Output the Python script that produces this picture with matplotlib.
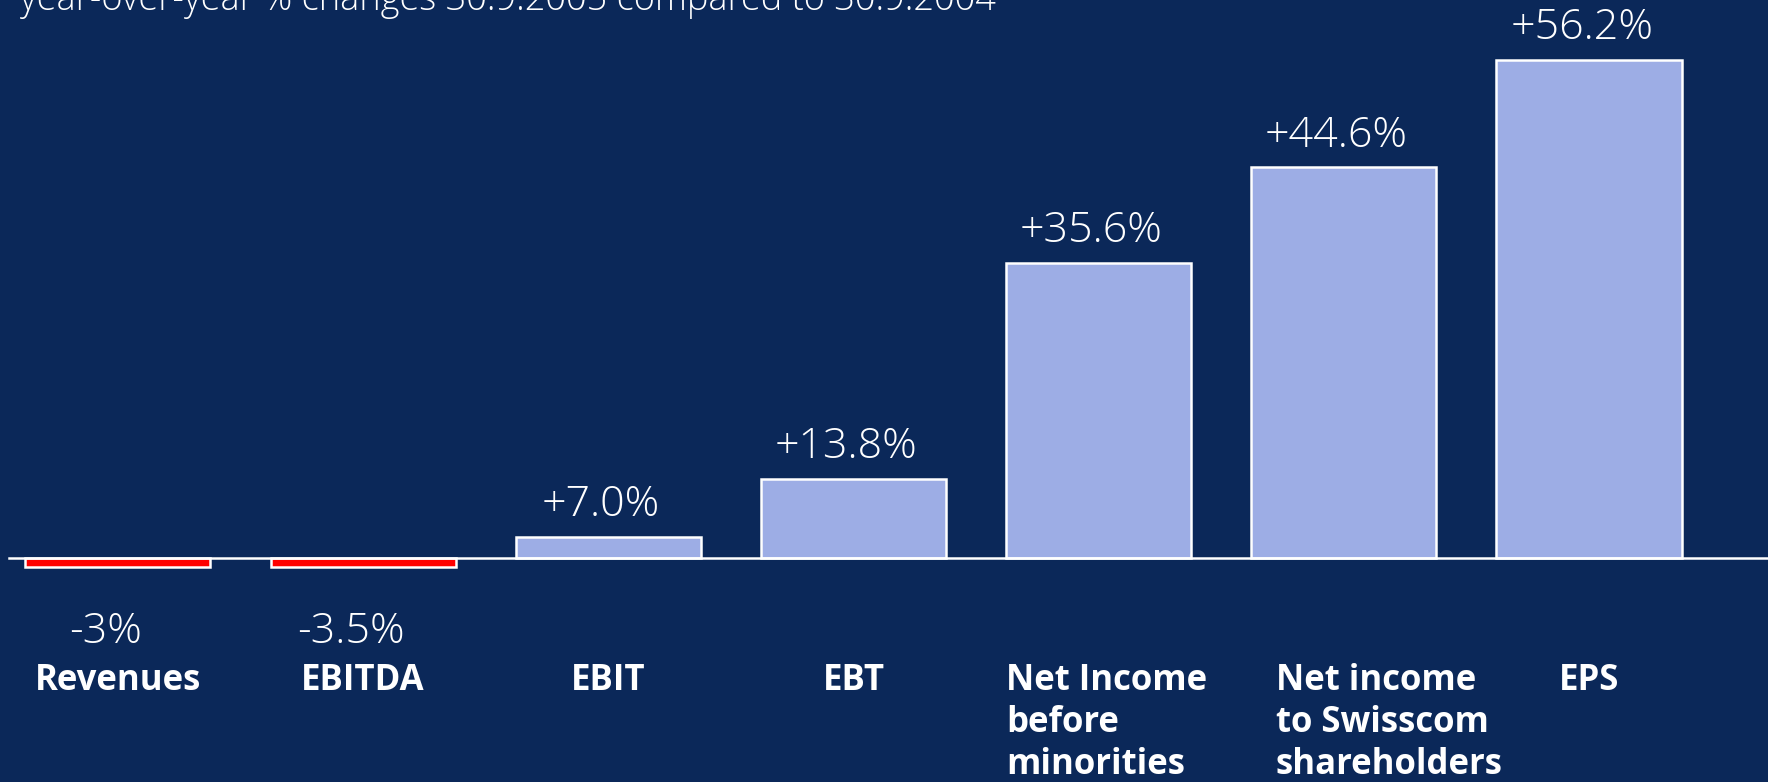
import numpy as np
import matplotlib
matplotlib.use('Agg')
from matplotlib import pyplot as plt

# data
categories = ['Revenues', 'EBITDA', 'EBIT', 'EBT',
              'Net Income\nbefore\nminorities',
              'Net income\nto Swisscom\nshareholders',
              'EPS']
value_labels = ['-3%', '-3.5%', '+7.0%', '+13.8%', '+35.6%', '+44.6%', '+56.2%']
# drawn bar heights (the slide does not draw them to scale)
bar_heights = [-1.0, -1.0, 2.4, 9.0, 33.3, 44.1, 56.2]
title = 'year-over-year % changes 30.9.2005 compared to 30.9.2004'

BG = '#0B2859'
BAR = '#9DADE5'
NEG = '#FF0000'
FONT = ['Open Sans', 'DejaVu Sans']

fig = plt.figure(figsize=(17.68, 7.82), dpi=100, facecolor=BG)
ax = fig.add_axes([0, 0, 1, 1], facecolor=BG)

x = np.arange(len(categories))
colors = [NEG if v < 0 else BAR for v in bar_heights]
ax.bar(x, bar_heights, width=0.755, color=colors, edgecolor='white', linewidth=1.8, zorder=2)

# baseline
ax.axhline(0, xmin=9 / 1768, xmax=1, color='white', linewidth=1.8, zorder=3)

ax.set_xlim(-0.481, 6.730)
ax.set_ylim(-25.2, 62.97)
ax.axis('off')

# value labels
for xi, h, lab in zip(x, bar_heights, value_labels):
    if h >= 0:
        ax.annotate(lab, (xi - 0.03, h), xytext=(0, 15), textcoords='offset points',
                    ha='center', va='baseline', color='white', fontsize=31,
                    fontweight='light', family=FONT)
    else:
        ax.text(xi - 0.05, -9.5, lab, ha='center', va='baseline', color='white',
                fontsize=31, fontweight='light', family=FONT)

# category labels
for xi, cat in zip(x, categories):
    if '\n' in cat:
        ax.text(xi - 0.377 + (0.1 if 'Swisscom' in cat else 0), -11.8, cat,
                ha='left', va='top', multialignment='left', linespacing=1.22,
                color='white', fontsize=25, fontweight='bold', family=FONT)
    else:
        ax.text(xi, -11.8, cat, ha='center', va='top', color='white',
                fontsize=25, fontweight='bold', family=FONT)

fig.text(20 / 1768, 1 - 10 / 782, title, ha='left', va='baseline', color='white',
         fontsize=26, fontweight='light', family=FONT)

fig.savefig('out.png', dpi=100, facecolor=BG)
